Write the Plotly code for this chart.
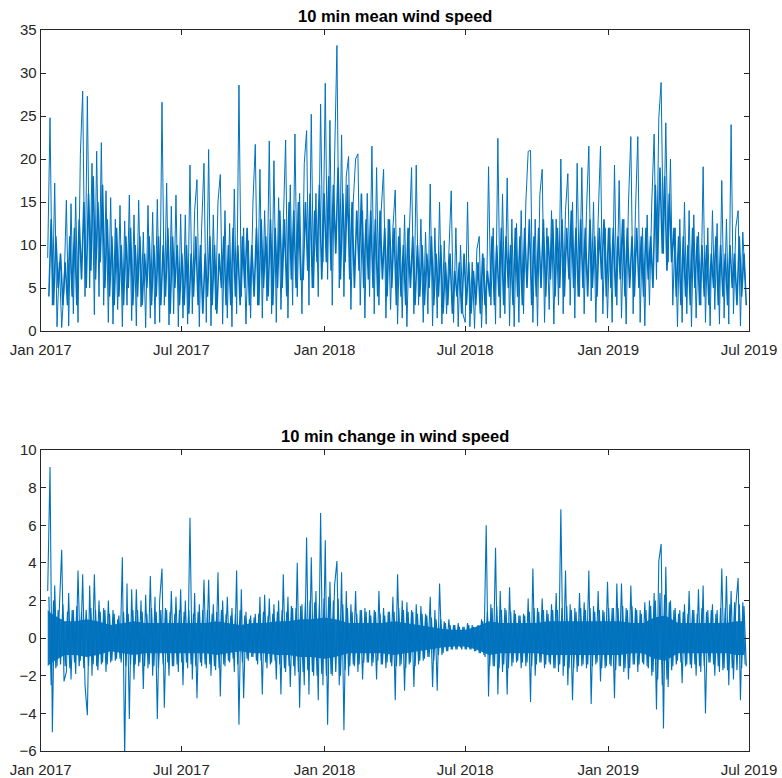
import pandas as pd
import plotly.graph_objects as go

# ---- spike series (3-day steps from 2017-01-10) ----
wind_speed = [
    8.5, 24.8, 3.0, 17.2, 0.5, 8.0, 0.4, 5.0,                 # Jan 2017
    15.2, 0.6, 14.8, 2.0, 15.6, 1.0, 20.5, 27.9, 4.0,          # Feb
    27.3, 5.0, 19.5, 1.9, 20.9, 4.0, 21.9, 3.0, 16.3, 1.0,     # Mar
    15.5, 0.8, 13.0, 2.5, 14.6, 0.5, 12.8, 3.0, 15.8, 1.2,     # Apr
    13.5, 0.6, 15.2, 2.8, 11.5, 0.4, 14.6, 1.5, 13.8, 0.8, 15.3,  # May
    1.0, 26.6, 3.0, 17.2, 0.7, 14.5, 2.0, 15.8, 0.5, 13.6,     # Jun
    1.5, 13.5, 0.8, 19.3, 2.0, 14.0, 17.6, 0.5, 12.0, 19.5,    # Jul
    1.0, 21.1, 0.6, 13.5, 2.5, 15.0, 18.2, 0.8, 14.0, 1.5,     # Aug
    12.5, 0.5, 16.5, 2.0, 28.6, 4.0, 12.0, 0.8, 10.5, 1.5,     # Sep
    15.0, 21.7, 3.0, 18.8, 1.5, 14.0, 3.5, 22.1, 2.0, 19.8, 1.0,  # Oct
    15.5, 2.5, 13.0, 22.2, 1.5, 17.0, 3.0, 22.9, 4.0, 16.0,    # Nov
    2.0, 19.5, 23.3, 3.0, 25.2, 5.0, 16.0, 4.0, 26.4, 8.0,     # Dec
    28.8, 6.0, 24.5, 3.0, 20.0, 33.2, 5.0, 22.8, 4.0, 18.0,    # Jan 2018
    20.3, 2.5, 15.0, 20.0, 20.6, 3.0, 14.0, 1.5, 16.0, 4.0,    # Feb
    21.5, 2.0, 19.0, 3.0, 14.0, 18.8, 1.5, 13.0, 2.5, 12.0,    # Mar
    16.4, 0.8, 12.0, 1.5, 13.5, 0.5, 11.0, 19.0, 2.0, 19.3,    # Apr
    3.0, 13.0, 1.0, 11.5, 2.0, 17.1, 0.6, 12.0, 1.5, 15.0,     # May
    0.8, 10.5, 2.0, 9.5, 16.3, 1.0, 12.0, 0.5, 10.0, 2.0,      # Jun
    1.0, 15.0, 0.5, 8.0, 0.3, 9.5, 11.0, 0.4, 8.5, 0.8, 19.1,  # Jul
    3.0, 12.0, 0.8, 22.4, 1.5, 15.9, 2.0, 17.8, 0.6, 13.0,     # Aug
    0.5, 12.5, 1.0, 14.0, 2.0, 15.0, 20.9, 21.0, 1.0, 13.0,    # Sep
    0.6, 15.9, 18.8, 1.0, 12.0, 2.5, 14.0, 0.8, 13.0, 3.0,     # Oct
    20.0, 2.0, 14.0, 18.3, 3.0, 15.0, 1.5, 19.5, 4.0, 19.0,    # Nov
    2.0, 14.0, 21.5, 3.5, 15.0, 1.0, 13.0, 21.5, 2.0, 12.0, 1.5,  # Dec
    12.0, 1.0, 19.3, 3.0, 17.5, 1.5, 13.0, 0.8, 15.0, 22.6,    # Jan 2019
    2.0, 14.0, 22.6, 1.0, 12.0, 0.6, 13.5, 3.0, 15.0,          # Feb
    22.9, 6.0, 24.8, 28.9, 9.0, 24.2, 8.0, 20.0, 3.0, 12.0, 0.5,  # Mar
    13.0, 1.0, 15.0, 2.0, 14.0, 0.5, 13.5, 1.5, 11.5, 3.0,     # Apr
    19.1, 1.0, 12.0, 0.6, 14.0, 2.5, 12.5, 0.8, 17.5, 1.5,     # May
    13.0, 0.8, 24.0, 2.0, 12.0, 14.0, 0.6, 11.5, 6.0,          # Jun
]

# dense core of the wind-speed trace (3-day steps from 2017-01-11 12:00)
wind_speed_core = [
    4, 13, 3, 11, 5, 9, 3, 8,                 # Jan 2017
    3, 11, 4, 12, 3, 13, 6, 15, 5,            # Feb
    16, 7, 18, 6, 15, 8, 17, 5, 13, 4,        # Mar
    11, 3, 12, 4, 10, 3, 11, 5, 12, 3,        # Apr
    10, 4, 11, 3, 9, 5, 11, 3, 10, 4, 11,     # May
    3, 10, 4, 12, 2, 11, 5, 10, 3, 9,         # Jun
    3, 10, 2, 9, 4, 11, 3, 10, 2, 9,          # Jul
    4, 11, 3, 10, 2, 9, 5, 11, 3, 10,         # Aug
    3, 12, 4, 10, 3, 11, 5, 12, 3, 10,        # Sep
    4, 12, 3, 13, 5, 11, 4, 13, 3, 12, 5,     # Oct
    14, 5, 13, 4, 15, 6, 14, 5, 15, 6,        # Nov
    6, 15, 7, 16, 5, 14, 8, 17, 6, 16,        # Dec
    8, 18, 7, 17, 9, 19, 6, 16, 8, 17,        # Jan 2018
    6, 15, 5, 14, 7, 16, 5, 13, 6, 14,        # Feb
    5, 13, 4, 14, 6, 12, 4, 13, 5, 12,        # Mar
    3, 11, 4, 10, 3, 12, 5, 11, 3, 10,        # Apr
    4, 10, 3, 9, 5, 11, 3, 9, 4, 10,          # May
    2, 8, 3, 9, 2, 7, 4, 8, 2, 9,             # Jun
    3, 8, 2, 7, 3, 8, 2, 9, 3, 7, 4,          # Jul
    11, 3, 10, 4, 12, 3, 11, 5, 10, 3,        # Aug
    12, 4, 11, 3, 12, 5, 13, 3, 11, 4,        # Sep
    12, 5, 13, 4, 11, 6, 13, 4, 12, 5,        # Oct
    13, 4, 12, 6, 14, 5, 12, 4, 13, 5,        # Nov
    12, 4, 13, 5, 11, 4, 12, 6, 13, 4, 12,    # Dec
    5, 12, 4, 11, 6, 13, 4, 12, 5, 11,        # Jan 2019
    4, 12, 5, 11, 4, 12, 6, 11, 5,            # Feb
    17, 8, 19, 9, 18, 7, 16, 8, 12, 4, 11,    # Mar
    3, 11, 4, 10, 3, 12, 5, 11, 3, 10,        # Apr
    4, 10, 3, 9, 5, 11, 3, 10, 4, 9,          # May
    3, 10, 5, 9, 3, 11, 4, 9, 3,              # Jun
]

wind_change = [
    2.5, 9.1, -5.0, 2.8, -1.5, 1.8, 4.7, -2.3,                 # Jan 2017
    -1.8, 2.4, -2.2, 1.5, -1.9, 3.6, -1.2, 3.4, -2.5,          # Feb
    -4.1, 2.8, -2.0, 3.4, -1.5, 2.0, -1.4, 1.6, -1.8, 2.0,     # Mar
    -1.3, 1.5, -1.2, 1.0, -1.1, 4.3, -6.4, 2.9, -4.3, 2.6,     # Apr
    -2.2, 2.6, -1.5, 2.0, -2.7, 2.3, -1.6, 3.3, -2.0, 2.2, -4.3,  # May
    2.0, 3.7, -3.7, 1.5, -2.0, 2.5, -1.5, 2.2, -1.8, 2.6,      # Jun
    -2.5, 2.0, -1.6, 6.4, -2.2, 2.4, -3.2, 1.8, -1.5, 3.1,     # Jul
    -1.6, 3.1, -2.0, 1.8, -1.7, 3.5, -3.1, 2.0, -1.5, 2.2,     # Aug
    -1.3, 1.6, -1.8, 3.6, -4.6, 2.6, -3.2, 1.4, -1.2, 1.2,     # Sep
    -1.0, 1.3, -1.4, 2.2, -3.0, 2.3, -1.6, 2.1, -1.3, 1.8, -2.2,  # Oct
    2.0, -3.0, 3.4, -1.8, 2.2, -2.6, 1.6, -2.0, 4.0, -3.7,     # Nov
    1.8, -2.5, 5.35, -3.0, 4.3, -2.0, 2.5, -3.3, 6.65, -2.5,   # Dec
    5.2, -4.6, 3.0, -2.0, 2.8, 4.1, -2.5, 3.5, -4.9, 2.5,      # Jan 2018
    -2.0, 1.8, -1.4, 2.5, -1.8, 1.5, -2.2, 1.6, -1.3, 1.5,     # Feb
    -1.5, 1.5, -2.2, 2.5, -1.4, 1.6, -1.6, 1.4, -1.3, 2.2,     # Mar
    -3.3, 3.4, -1.5, 2.0, -2.8, 1.9, -1.4, 1.5, -2.6, 1.8,     # Apr
    -1.4, 1.7, -1.2, 1.3, -1.0, 2.2, -2.6, 1.5, -2.8, 2.9,     # May
    -0.9, 0.9, -0.7, 1.0, -0.6, 0.7, -0.6, 0.8, -0.5, 0.6,     # Jun
    -0.6, 0.8, -0.6, 0.7, -0.7, 0.6, -0.8, 1.0, -0.9, 6.0, -3.1,  # Jul
    1.8, -1.5, 4.8, -3.0, 2.5, -1.8, 1.6, -3.0, 2.7, -1.5,     # Aug
    1.5, -1.3, 1.2, -1.6, 1.3, -1.5, 2.1, -3.4, 3.7, -2.0,     # Sep
    1.6, -1.3, 2.1, -1.6, 1.5, -1.3, 1.8, -1.6, 2.4, -1.8,     # Oct
    6.85, -2.0, 3.6, -2.5, 1.8, -3.3, 1.6, -1.8, 2.4, -1.5,    # Nov
    1.9, -1.6, 3.6, -3.5, 1.7, -1.4, 2.5, -2.3, 1.5, -1.6, 3.0,  # Dec
    -1.4, 1.6, -3.2, 2.9, -1.5, 2.9, -1.8, 1.6, -2.2, 2.8,     # Jan 2019
    -1.4, 1.6, -1.8, 1.5, -1.3, 1.9, -1.5, 2.0, -2.0,          # Feb
    2.4, -3.8, 4.1, 5.0, -4.8, 3.8, -2.6, 2.0, -1.5, 1.6, -1.2,  # Mar
    1.5, -2.4, 1.8, -1.4, 2.5, -1.6, 1.5, -2.0, 2.6, -1.8,     # Apr
    2.8, -4.0, 1.5, -1.3, 1.8, -2.0, 1.5, -1.8, 3.7, -1.6,     # May
    3.3, -2.5, 2.5, -2.2, 1.7, 3.2, -3.3, 1.9, -1.4,           # Jun
]

# dense fringe of the change trace (3-day steps from 2017-01-11 12:00)
wind_change_fringe = [
    2.2, -2.5, 2.0, -1.6, 1.5, -1.4, 1.8, -1.5,                # Jan 2017
    1.4, -1.6, 1.5, -1.3, 1.7, -1.5, 1.4, -1.6, 1.5,           # Feb
    -1.5, 1.6, -1.4, 1.5, -1.7, 1.4, -1.3, 1.5, -1.4, 1.3,     # Mar
    -1.2, 1.3, -1.1, 1.2, -1.3, 1.4, -1.5, 1.3, -1.4, 1.5,     # Apr
    -1.4, 1.5, -1.3, 1.4, -1.5, 1.3, -1.4, 1.6, -1.5, 1.4, -1.6,  # May
    1.5, -1.4, 1.6, -1.3, 1.4, -1.5, 1.3, -1.4, 1.5, -1.3,     # Jun
    1.4, -1.3, 1.5, -1.4, 1.3, -1.5, 1.4, -1.3, 1.5, -1.4,     # Jul
    1.5, -1.4, 1.3, -1.5, 1.4, -1.6, 1.5, -1.4, 1.3, -1.2,     # Aug
    1.2, -1.1, 1.3, -1.4, 1.5, -1.3, 1.2, -1.1, 1.0, -1.0,     # Sep
    1.1, -1.2, 1.3, -1.2, 1.4, -1.3, 1.2, -1.4, 1.3, -1.2, 1.4,  # Oct
    -1.4, 1.5, -1.6, 1.4, -1.5, 1.7, -1.5, 1.6, -1.8, 1.7,     # Nov
    -1.8, 1.9, -1.7, 2.0, -1.8, 1.9, -2.0, 1.8, -1.9, 2.1,     # Dec
    -2.0, 2.2, -1.9, 2.0, -1.8, 2.1, -2.0, 1.8, -1.7, 1.6,     # Jan 2018
    -1.5, 1.4, -1.5, 1.3, -1.4, 1.5, -1.3, 1.4, -1.3, 1.2,     # Feb
    -1.3, 1.4, -1.2, 1.3, -1.4, 1.2, -1.3, 1.4, -1.5, 1.4,     # Mar
    -1.5, 1.6, -1.4, 1.5, -1.6, 1.4, -1.3, 1.4, -1.5, 1.3,     # Apr
    -1.2, 1.3, -1.1, 1.2, -1.0, 1.1, -1.2, 1.0, -0.9, 1.0,     # May
    -0.8, 0.8, -0.7, 0.7, -0.6, 0.7, -0.6, 0.6, -0.6, 0.6,     # Jun
    -0.6, 0.7, -0.6, 0.6, -0.7, 0.7, -0.8, 0.9, -1.0, 1.4, -1.5,  # Jul
    1.6, -1.5, 1.7, -1.6, 1.5, -1.4, 1.5, -1.6, 1.4, -1.3,     # Aug
    1.3, -1.2, 1.2, -1.3, 1.2, -1.3, 1.4, -1.5, 1.6, -1.4,     # Sep
    1.4, -1.3, 1.5, -1.4, 1.3, -1.4, 1.5, -1.6, 1.5, -1.4,     # Oct
    1.6, -1.5, 1.7, -1.6, 1.5, -1.6, 1.4, -1.5, 1.6, -1.4,     # Nov
    1.5, -1.4, 1.6, -1.5, 1.4, -1.3, 1.5, -1.6, 1.4, -1.5, 1.6,  # Dec
    -1.5, 1.6, -1.7, 1.6, -1.5, 1.7, -1.6, 1.5, -1.6, 1.7,     # Jan 2019
    -1.4, 1.5, -1.4, 1.3, -1.4, 1.5, -1.6, 1.7, -1.8,          # Feb
    2.0, -2.2, 2.4, -2.5, 2.3, -2.2, 1.9, -1.7, 1.5, -1.4, 1.3,  # Mar
    -1.3, 1.4, -1.5, 1.3, -1.4, 1.5, -1.4, 1.3, -1.5, 1.6,     # Apr
    -1.5, 1.4, -1.3, 1.5, -1.4, 1.3, -1.5, 1.6, -1.7, 1.6,     # May
    -1.7, 1.8, -1.6, 1.9, -1.7, 1.8, -1.6, 1.7, -1.5,          # Jun
]

# solid core band of the change trace (Jan 10 2017, 1st/15th of each month, Jun 25 2019)
change_core_low = [-1.5, -1.3, -0.9, -0.9, -1.0, -0.9, -0.7, -0.8, -0.9, -0.8, -0.8, -0.8,
                   -0.8, -0.8, -0.8, -0.9, -0.8, -0.7, -0.8, -0.8, -0.9, -0.9, -1.0, -1.0,
                   -1.1, -1.0, -0.8, -0.8, -0.8, -0.8, -0.9, -0.8, -0.7, -0.6, -0.5, -0.45,
                   -0.45, -0.6, -0.9, -0.8, -0.8, -0.8, -0.8, -0.9, -0.9, -0.9, -0.9, -0.9,
                   -0.9, -0.9, -0.8, -0.8, -1.1, -1.2, -0.8, -0.8, -0.8, -0.8, -0.8, -0.9, -0.9]
change_core_high = [1.5, 1.3, 0.9, 0.9, 1.0, 0.9, 0.7, 0.8, 0.9, 0.8, 0.8, 0.8,
                    0.8, 0.8, 0.8, 0.9, 0.8, 0.7, 0.8, 0.8, 0.9, 0.9, 1.0, 1.0,
                    1.1, 1.0, 0.8, 0.8, 0.8, 0.8, 0.9, 0.8, 0.7, 0.6, 0.5, 0.45,
                    0.45, 0.6, 0.9, 0.8, 0.8, 0.8, 0.8, 0.9, 0.9, 0.9, 0.9, 0.9,
                    0.9, 0.9, 0.8, 0.8, 1.1, 1.2, 0.8, 0.8, 0.8, 0.8, 0.8, 0.9, 0.9]

tick_dates = ["2017-01-01", "2017-07-01", "2018-01-01", "2018-07-01", "2019-01-01", "2019-07-01"]
tick_labels = ["Jan 2017", "Jul 2017", "Jan 2018", "Jul 2018", "Jan 2019", "Jul 2019"]
titles = ["10 min mean wind speed", "10 min change in wind speed"]

t_speed = pd.date_range("2017-01-10", periods=len(wind_speed), freq="3D")
t_speed_core = pd.date_range("2017-01-11 12:00", periods=len(wind_speed_core), freq="3D")
t_change = pd.date_range("2017-01-10", periods=len(wind_change), freq="3D")
t_change_fringe = pd.date_range("2017-01-11 12:00", periods=len(wind_change_fringe), freq="3D")
t_core = ([pd.Timestamp("2017-01-10")]
          + list(pd.date_range("2017-01-15", "2019-06-15", freq="SMS"))
          + [pd.Timestamp("2019-06-25")])

W, H = 782, 778
blue = "#0072BD"
axcol = "#262626"
font = "Liberation Sans, Arial, sans-serif"

fig = go.Figure()
# top
fig.add_trace(go.Scatter(x=t_speed_core, y=wind_speed_core, mode="lines",
                         line=dict(color=blue, width=1.6), xaxis="x", yaxis="y"))
fig.add_trace(go.Scatter(x=t_speed, y=wind_speed, mode="lines",
                         line=dict(color=blue, width=1), xaxis="x", yaxis="y"))
# bottom
fig.add_trace(go.Scatter(x=t_core, y=change_core_low, mode="lines", line=dict(width=0, color=blue),
                         xaxis="x2", yaxis="y2"))
fig.add_trace(go.Scatter(x=t_core, y=change_core_high, mode="lines", line=dict(width=0, color=blue),
                         fill="tonexty", fillcolor="rgba(0,114,189,0.95)", xaxis="x2", yaxis="y2"))
fig.add_trace(go.Scatter(x=t_change_fringe, y=wind_change_fringe, mode="lines",
                         line=dict(color=blue, width=1.2), xaxis="x2", yaxis="y2"))
fig.add_trace(go.Scatter(x=t_change, y=wind_change, mode="lines",
                         line=dict(color=blue, width=1.1), xaxis="x2", yaxis="y2"))

xl, xr = 40.7 / W, 749 / W
top_dom = [1 - 331 / H, 1 - 30 / H]
bot_dom = [1 - 751 / H, 1 - 450 / H]

common_x = dict(range=["2017-01-01", "2019-07-01"], tickvals=tick_dates, ticktext=tick_labels,
                showline=True, mirror="ticks", linecolor=axcol, linewidth=1,
                ticks="inside", ticklen=5, tickcolor=axcol, showgrid=False, zeroline=False,
                tickfont=dict(family=font, size=15, color=axcol), domain=[xl, xr],
                automargin=False, ticklabelstandoff=5)
common_y = dict(showline=True, mirror="ticks", linecolor=axcol, linewidth=1,
                ticks="inside", ticklen=5, tickcolor=axcol, showgrid=False, zeroline=False,
                tickfont=dict(family=font, size=15, color=axcol), automargin=False)

fig.update_layout(
    width=W, height=H, margin=dict(l=0, r=0, t=0, b=0),
    paper_bgcolor="white", plot_bgcolor="white", showlegend=False, hovermode=False,
    xaxis=dict(**common_x, anchor="y"),
    yaxis=dict(**common_y, range=[0, 35], tickvals=[0, 5, 10, 15, 20, 25, 30, 35], domain=top_dom, anchor="x"),
    xaxis2=dict(**common_x, anchor="y2"),
    yaxis2=dict(**common_y, range=[-6, 10], tickvals=[-6, -4, -2, 0, 2, 4, 6, 8, 10], domain=bot_dom, anchor="x2"),
    annotations=[
        dict(text="<b>" + titles[0] + "</b>", x=(xl + xr) / 2, y=1 - 16 / H, xref="paper", yref="paper",
             showarrow=False, font=dict(family=font, size=16.5, color="black"), yanchor="middle"),
        dict(text="<b>" + titles[1] + "</b>", x=(xl + xr) / 2, y=1 - 436 / H, xref="paper", yref="paper",
             showarrow=False, font=dict(family=font, size=16.5, color="black"), yanchor="middle"),
    ],
)

fig.write_html("out.html")
